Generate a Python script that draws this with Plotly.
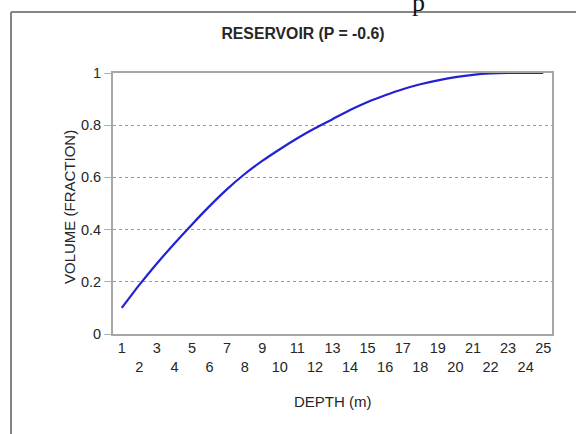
import plotly.graph_objects as go

# Reservoir volume curve: cumulative volume fraction against depth
depth_m = list(range(1, 26))
volume_fraction = [0.10, 0.188, 0.27, 0.347, 0.42, 0.49, 0.555, 0.613, 0.663, 0.708,
                   0.75, 0.788, 0.823, 0.858, 0.889, 0.915, 0.938, 0.957, 0.972, 0.984,
                   0.993, 0.998, 1.0, 1.0, 1.0]
y_ticks = [0, 0.2, 0.4, 0.6, 0.8, 1]
y_tick_text = ["0", "0.2", "0.4", "0.6", "0.8", "1"]
# odd depths on the first label row, even depths dropped to a second row
x_tick_text = [str(d) if d % 2 else "<br>" + str(d) for d in depth_m]

W, H = 576, 434
L, R, T, B = 113, 24, 73, 100
PW, PH = W - L - R, H - T - B


def px_x(px):
    return (px - L) / PW


def px_y(py):
    return (H - B - py) / PH


FONT = "Liberation Sans, Arial, sans-serif"
TXT = "#262626"

fig = go.Figure()
fig.add_trace(go.Scatter(
    x=depth_m, y=volume_fraction, mode="lines",
    line=dict(color="#2222d2", width=2.2, shape="spline", smoothing=0.6),
    hoverinfo="x+y", showlegend=False,
))

fig.update_layout(
    width=W, height=H,
    margin=dict(l=L, r=R, t=T, b=B, pad=0),
    paper_bgcolor="white", plot_bgcolor="white",
    font=dict(family=FONT, color=TXT, size=14),
    title=dict(text="<b>RESERVOIR (P = -0.6)</b>", x=px_x(303), xref="paper",
               xanchor="center", y=1 - 33 / H, yanchor="middle",
               font=dict(family=FONT, size=15.8, color=TXT)),
    xaxis=dict(range=[0.5, 25.5], tickmode="array", tickvals=depth_m,
               ticktext=x_tick_text, ticks="", tickangle=0,
               showgrid=False, zeroline=False,
               showline=True, mirror=True, linecolor="#a6a6a6", linewidth=2,
               tickfont=dict(size=14.5, color=TXT), fixedrange=True),
    yaxis=dict(range=[0, 1], tickmode="array", tickvals=y_ticks,
               ticktext=y_tick_text, ticks="outside", ticklen=7,
               tickcolor="#b0b0b0", tickwidth=1,
               showgrid=True, gridcolor="#9a9a9a", griddash="dot", gridwidth=1,
               zeroline=False, showline=True, mirror=True,
               linecolor="#a6a6a6", linewidth=2,
               tickfont=dict(size=14.5, color=TXT), fixedrange=True),
)

# axis titles
fig.add_annotation(text="DEPTH (m)", xref="paper", yref="paper",
                   x=px_x(333), y=px_y(401), xanchor="center", yanchor="middle",
                   showarrow=False, font=dict(family=FONT, size=15, color=TXT))
fig.add_annotation(text="VOLUME (FRACTION)", xref="paper", yref="paper",
                   x=px_x(69), y=px_y(207), xanchor="center", yanchor="middle",
                   textangle=-90, showarrow=False,
                   font=dict(family=FONT, size=15, color=TXT))

# serif glyph from the surrounding page, at the top edge
fig.add_annotation(text="p", xref="paper", yref="paper",
                   x=px_x(418), y=px_y(3), xanchor="center", yanchor="middle",
                   showarrow=False,
                   font=dict(family="Liberation Serif, Times New Roman, serif",
                             size=26, color="#111111"))

# outer chart frame (open to the right and bottom page edges)
fig.add_shape(type="line", xref="paper", yref="paper",
              x0=px_x(11), x1=px_x(W + 10), y0=px_y(12), y1=px_y(12),
              line=dict(color="#858585", width=2))
fig.add_shape(type="line", xref="paper", yref="paper",
              x0=px_x(11), x1=px_x(11), y0=px_y(12), y1=px_y(H + 10),
              line=dict(color="#858585", width=2))

fig.write_html("out.html")
